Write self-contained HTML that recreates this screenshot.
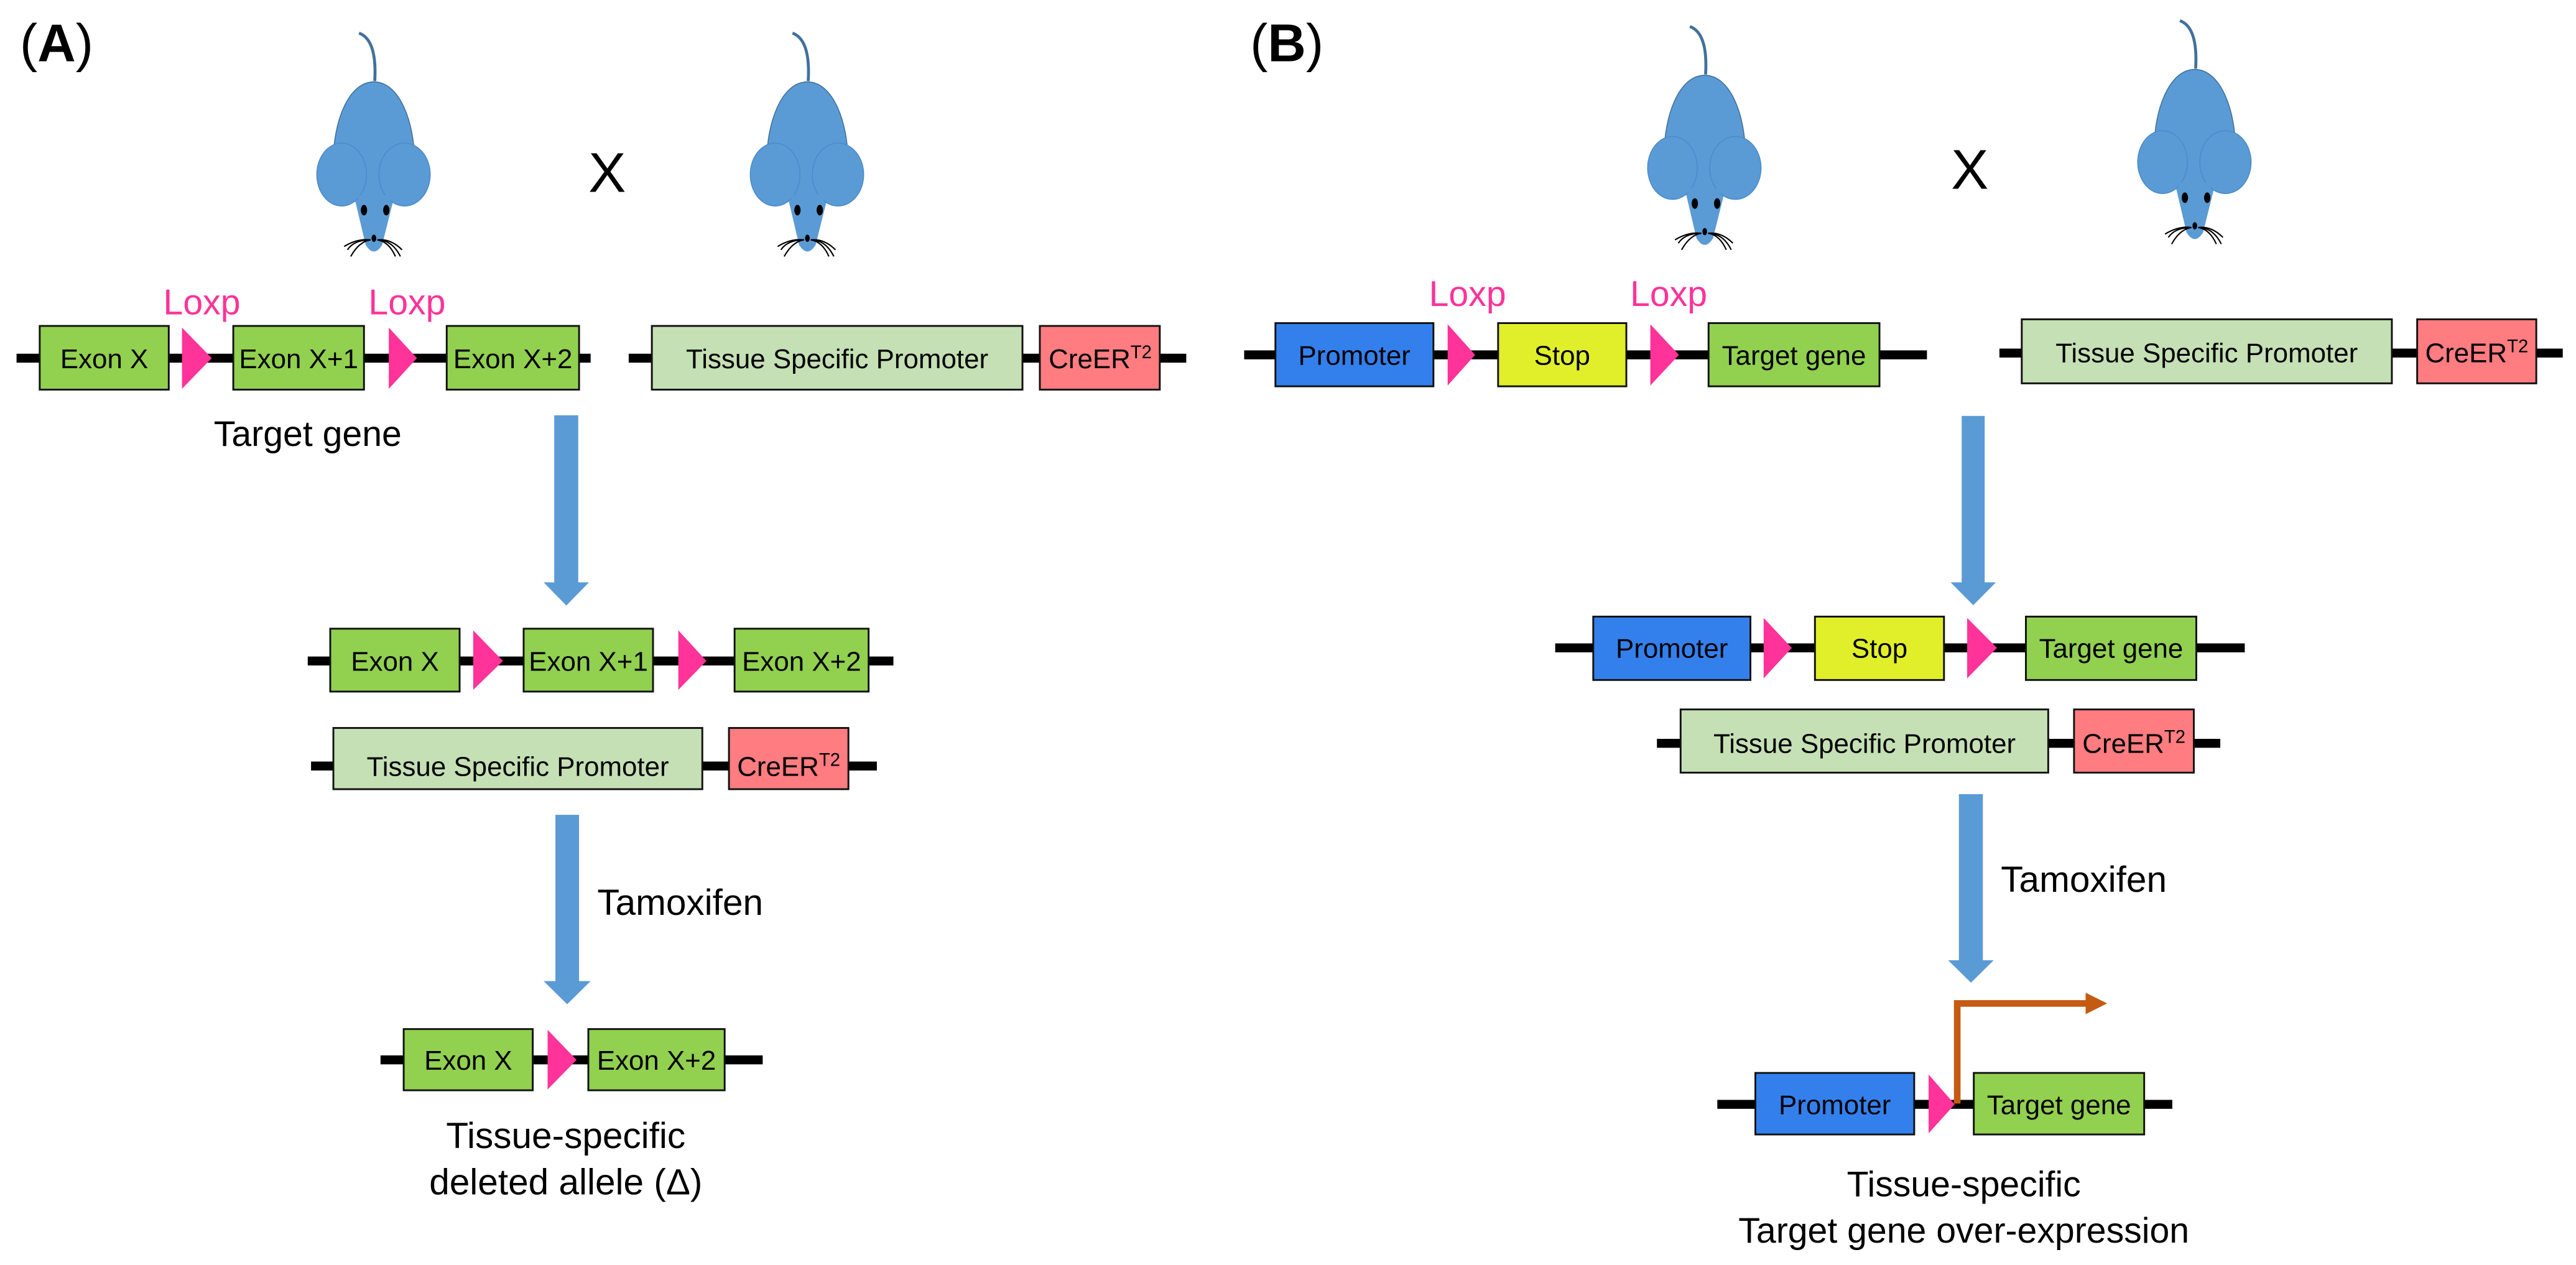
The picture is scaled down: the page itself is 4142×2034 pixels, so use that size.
<!DOCTYPE html>
<html><head><meta charset="utf-8"><style>
html,body{margin:0;padding:0;background:#fff;}
svg{display:block;}
text{font-family:"Liberation Sans",Arial,sans-serif;}
</style></head><body>
<svg width="4142" height="2034" viewBox="0 0 1557 764.6" preserveAspectRatio="none" xmlns="http://www.w3.org/2000/svg">
<defs>
<g id="mouse">
  <path d="M -9 20 Q 2 24 0.5 49" fill="none" stroke="#41719c" stroke-width="1.8"/>
  <path d="M -13.5 112 L 14 112 L 5 148 Q 0 156 -5 148 Z" fill="#5b9bd5"/>
  <path d="M 0 49.5 C 16 49.5 24.5 75 24.5 97 L 24.5 118 L -24.5 118 L -24.5 97 C -24.5 75 -16 49.5 0 49.5 Z" fill="#5b9bd5" stroke="#41719c" stroke-width="0.6"/>
  <path d="M -13.5 110 L 14 110 L 12 122 L -12 122 Z" fill="#5b9bd5"/>
  <ellipse cx="-19.5" cy="105.5" rx="15" ry="19" fill="#5b9bd5" stroke="#4a8bc9" stroke-width="0.6"/>
  <ellipse cx="18.5" cy="105.5" rx="15.5" ry="19" fill="#5b9bd5" stroke="#4a8bc9" stroke-width="0.6"/>
  <path d="M -10 118 L 10 118 L 9 126 L -9 126 Z" fill="#5b9bd5"/>
  <ellipse cx="-6" cy="127" rx="1.9" ry="3.2" fill="#000"/>
  <ellipse cx="7.5" cy="127" rx="1.9" ry="3.2" fill="#000"/>
  <ellipse cx="0" cy="144" rx="1.4" ry="2.2" fill="#000"/>
  <path d="M -2 145 Q -10 144 -18 149 M -2 145 Q -9 146 -14 155 M -2 145 Q -12 145 -16 151 M 2 145 Q 10 144 17 151 M 2 145 Q 11 145 16 155 M 2 145 Q 9 146 13 155" fill="none" stroke="#000" stroke-width="0.8"/>
</g>
</defs>

<!-- Panel A -->
<text x="12" y="37" font-size="32"><tspan>(</tspan><tspan font-weight="bold">A</tspan><tspan>)</tspan></text>
<use href="#mouse" x="226" y="0"/>
<use href="#mouse" x="488" y="0"/>
<text x="367" y="116" font-size="34" text-anchor="middle">X</text>

<text x="122" y="190" font-size="21.5" fill="#ff3399" text-anchor="middle">Loxp</text>
<text x="246" y="190" font-size="21.5" fill="#ff3399" text-anchor="middle">Loxp</text>

<g stroke="#000" stroke-width="5.4">
<line x1="10" y1="216.5" x2="357" y2="216.5"/>
<line x1="380" y1="216.5" x2="717" y2="216.5"/>
</g>
<g stroke="#111" stroke-width="1.1">
<rect x="24" y="197" width="78" height="38.5" fill="#92d050"/>
<rect x="141" y="197" width="79" height="38.5" fill="#92d050"/>
<rect x="270" y="197" width="80" height="38.5" fill="#92d050"/>
<rect x="394" y="197" width="224" height="38.5" fill="#c5e0b4"/>
<rect x="628.5" y="197" width="72.5" height="38.5" fill="#ff7c80"/>
</g>
<polygon points="110,198 110,235 128,216.5" fill="#ff3399"/>
<polygon points="235,198 235,235 252,216.5" fill="#ff3399"/>
<g font-size="16.5" text-anchor="middle">
<text x="63" y="222.5">Exon X</text>
<text x="180.5" y="222.5">Exon X+1</text>
<text x="310" y="222.5">Exon X+2</text>
<text x="506" y="222.5">Tissue Specific Promoter</text>
<text x="665" y="222.5">CreER<tspan font-size="11" dy="-6">T2</tspan></text>
</g>
<text x="186" y="269.5" font-size="21.5" text-anchor="middle">Target gene</text>

<polygon points="335,251 349.5,251 349.5,352 356,352 342.3,366 328.6,352 335,352" fill="#5b9bd5"/>

<line x1="186" y1="399.5" x2="540" y2="399.5" stroke="#000" stroke-width="5.4"/>
<g stroke="#111" stroke-width="1.1">
<rect x="199.6" y="380" width="78.2" height="38" fill="#92d050"/>
<rect x="316.5" y="380" width="78.2" height="38" fill="#92d050"/>
<rect x="444" y="380" width="81" height="38" fill="#92d050"/>
</g>
<polygon points="286,381 286,417 304,399.5" fill="#ff3399"/>
<polygon points="410,381 410,417 427,399.5" fill="#ff3399"/>
<g font-size="16.5" text-anchor="middle">
<text x="238.7" y="405.5">Exon X</text>
<text x="355.6" y="405.5">Exon X+1</text>
<text x="484.5" y="405.5">Exon X+2</text>
</g>

<line x1="188" y1="463" x2="530" y2="463" stroke="#000" stroke-width="5.4"/>
<g stroke="#111" stroke-width="1.1">
<rect x="201.5" y="440" width="223" height="37" fill="#c5e0b4"/>
<rect x="440.6" y="440" width="72.2" height="37" fill="#ff7c80"/>
</g>
<g font-size="16.5" text-anchor="middle">
<text x="313" y="469">Tissue Specific Promoter</text>
<text x="476.7" y="469">CreER<tspan font-size="11" dy="-6">T2</tspan></text>
</g>

<polygon points="335.7,492.5 350,492.5 350,593 357,593 342.8,607 328.6,593 335.7,593" fill="#5b9bd5"/>
<text x="361" y="553" font-size="22">Tamoxifen</text>

<line x1="230" y1="640.6" x2="461" y2="640.6" stroke="#000" stroke-width="5.4"/>
<g stroke="#111" stroke-width="1.1">
<rect x="244" y="622" width="78" height="37" fill="#92d050"/>
<rect x="355.6" y="622" width="82.4" height="37" fill="#92d050"/>
</g>
<polygon points="331,622.5 331,658.5 348.5,640.6" fill="#ff3399"/>
<g font-size="16.5" text-anchor="middle">
<text x="283" y="646.6">Exon X</text>
<text x="396.8" y="646.6">Exon X+2</text>
</g>
<text x="342" y="694" font-size="22" text-anchor="middle">Tissue-specific</text>
<text x="342" y="722" font-size="22" text-anchor="middle">deleted allele (Δ)</text>

<!-- Panel B -->
<text x="755.6" y="37" font-size="32"><tspan>(</tspan><tspan font-weight="bold">B</tspan><tspan>)</tspan></text>
<use href="#mouse" x="1030.4" y="-4"/>
<use href="#mouse" x="1326.6" y="-7.5"/>
<text x="1190.6" y="114" font-size="34" text-anchor="middle">X</text>

<text x="887" y="185" font-size="21.5" fill="#ff3399" text-anchor="middle">Loxp</text>
<text x="1008.6" y="185" font-size="21.5" fill="#ff3399" text-anchor="middle">Loxp</text>

<g stroke="#000" stroke-width="5.4">
<line x1="752" y1="214.5" x2="1164.7" y2="214.5"/>
<line x1="1208.5" y1="213.4" x2="1549" y2="213.4"/>
</g>
<g stroke="#111" stroke-width="1.1">
<rect x="770.9" y="195.3" width="95.5" height="38.2" fill="#3380ec"/>
<rect x="905.5" y="195.3" width="77.5" height="38.2" fill="#e1ef2b"/>
<rect x="1032.7" y="195.3" width="103.3" height="38.2" fill="#92d050"/>
<rect x="1222" y="193" width="223.7" height="38.7" fill="#c5e0b4"/>
<rect x="1461" y="193" width="72" height="38.7" fill="#ff7c80"/>
</g>
<polygon points="875,196 875,233 891.6,214.5" fill="#ff3399"/>
<polygon points="997.5,196 997.5,233 1014.8,214.5" fill="#ff3399"/>
<g font-size="16.5" text-anchor="middle">
<text x="818.6" y="220.5">Promoter</text>
<text x="944.2" y="220.5">Stop</text>
<text x="1084.3" y="220.5">Target gene</text>
<text x="1333.8" y="219">Tissue Specific Promoter</text>
<text x="1497" y="219">CreER<tspan font-size="11" dy="-6">T2</tspan></text>
</g>

<polygon points="1185.7,251.4 1199.6,251.4 1199.6,352 1206.4,352 1192.7,365.8 1179,352 1185.7,352" fill="#5b9bd5"/>

<line x1="940" y1="391.6" x2="1356.8" y2="391.6" stroke="#000" stroke-width="5.4"/>
<g stroke="#111" stroke-width="1.1">
<rect x="963" y="372.7" width="95" height="38.3" fill="#3380ec"/>
<rect x="1097" y="372.7" width="78" height="38.3" fill="#e1ef2b"/>
<rect x="1224.5" y="372.7" width="103" height="38.3" fill="#92d050"/>
</g>
<polygon points="1066,373.5 1066,410 1083,391.6" fill="#ff3399"/>
<polygon points="1189,373.5 1189,410 1207,391.6" fill="#ff3399"/>
<g font-size="16.5" text-anchor="middle">
<text x="1010.5" y="397.6">Promoter</text>
<text x="1136" y="397.6">Stop</text>
<text x="1276" y="397.6">Target gene</text>
</g>

<line x1="1001.5" y1="449.3" x2="1342" y2="449.3" stroke="#000" stroke-width="5.4"/>
<g stroke="#111" stroke-width="1.1">
<rect x="1015.8" y="428.8" width="222.2" height="38.2" fill="#c5e0b4"/>
<rect x="1253.6" y="428.8" width="72.4" height="38.2" fill="#ff7c80"/>
</g>
<g font-size="16.5" text-anchor="middle">
<text x="1127" y="455">Tissue Specific Promoter</text>
<text x="1289.8" y="455">CreER<tspan font-size="11" dy="-6">T2</tspan></text>
</g>

<polygon points="1184,480 1198.5,480 1198.5,580.4 1205,580.4 1191.3,594 1177.5,580.4 1184,580.4" fill="#5b9bd5"/>
<text x="1209.4" y="539" font-size="22">Tamoxifen</text>

<line x1="1038" y1="667.5" x2="1313" y2="667.5" stroke="#000" stroke-width="5.4"/>
<g stroke="#111" stroke-width="1.1">
<rect x="1061" y="648.5" width="96" height="37.2" fill="#3380ec"/>
<rect x="1193" y="648.5" width="103" height="37.2" fill="#92d050"/>
</g>
<polygon points="1165.7,649.5 1165.7,685 1181.5,667.5" fill="#ff3399"/>
<path d="M 1183 667 L 1183 606.5 L 1262 606.5" fill="none" stroke="#c55a11" stroke-width="4"/>
<polygon points="1260.6,600 1260.6,613 1273.6,606.5" fill="#c55a11"/>
<g font-size="16.5" text-anchor="middle">
<text x="1109" y="673.5">Promoter</text>
<text x="1244.5" y="673.5">Target gene</text>
</g>
<text x="1187" y="723" font-size="21.5" text-anchor="middle">Tissue-specific</text>
<text x="1187" y="751" font-size="21.5" text-anchor="middle">Target gene over-expression</text>
</svg>
</body></html>
